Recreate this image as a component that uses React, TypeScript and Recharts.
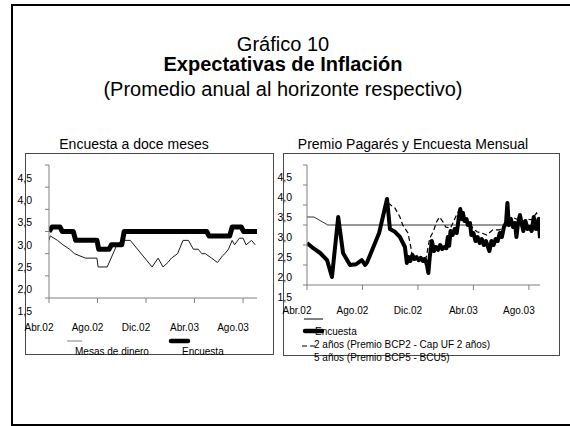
import React from 'react';
import { LineChart, Line, XAxis, YAxis } from 'recharts';

const FONT = '"Liberation Sans", Arial, Helvetica, sans-serif';

// Shared axis definitions (months since Apr 2002)
const monthTicks = [0, 4, 8, 12, 16];
const monthLabels = ['Abr.02', 'Ago.02', 'Dic.02', 'Abr.03', 'Ago.03'];
const yTicks = [1.8, 2.3, 2.8, 3.3, 3.8, 4.3, 4.8];
const yLabels = ['1,5', '2,0', '2,5', '3,0', '3,5', '4,0', '4,5'];

// Left panel: Encuesta a doce meses
const leftEncT = [0, 0.25, 0.9, 1.1, 2.0, 2.2, 3.95, 4.1, 4.95, 5.15, 6.0, 6.2, 13.0, 13.2, 14.9, 15.1, 15.85, 16.05, 17.15];
const leftEncV = [3.3, 3.4, 3.4, 3.3, 3.3, 3.1, 3.1, 2.9, 2.9, 3.0, 3.0, 3.3, 3.3, 3.2, 3.2, 3.4, 3.4, 3.3, 3.3];

const mesasT = [0, 0.1, 0.7, 1.15, 1.7, 2.1, 3.0, 3.95, 4.05, 4.8, 5.6, 6.0, 6.7, 8.5, 9.0, 9.4, 9.8, 10.1, 10.6, 11.05, 11.5, 11.9, 12.3, 12.6, 12.9, 13.4, 13.9, 14.3, 14.5, 14.8, 15.1, 15.3, 15.7, 16.0, 16.25, 16.7, 17.0];
const mesasV = [3.1, 3.2, 3.1, 3.0, 2.9, 2.8, 2.7, 2.7, 2.5, 2.5, 3.0, 3.1, 3.1, 2.5, 2.7, 2.5, 2.6, 2.7, 2.8, 3.1, 3.1, 2.9, 2.9, 2.8, 2.8, 2.7, 2.6, 2.75, 2.8, 2.9, 3.1, 3.0, 3.15, 3.15, 3.0, 3.1, 3.0];

// Right panel: Premio Pagarés y Encuesta Mensual
const encMensT = [0, 0.5, 1.5, 16.8];
const encMensV = [3.5, 3.5, 3.3, 3.3];

const cincoT = [0, 0.45, 0.95, 1.45, 1.8, 2.25, 2.6, 3.1, 3.55, 3.95, 4.2, 4.35, 5.2, 5.77, 5.98, 6.34, 6.7, 7.06, 7.2, 7.3, 7.45, 7.6, 7.75, 7.9, 8.05, 8.2, 8.35, 8.5, 8.65, 8.75, 8.85, 9.0, 9.15, 9.3, 9.45, 9.6, 9.75, 9.9, 10.05, 10.15, 10.25, 10.35, 10.5, 10.65, 10.8, 10.95, 11.05, 11.15, 11.25, 11.35, 11.5, 11.6, 11.75, 11.85, 12.0, 12.15, 12.3, 12.45, 12.6, 12.75, 12.9, 13.05, 13.15, 13.3, 13.45, 13.6, 13.75, 13.9, 14.05, 14.2, 14.35, 14.45, 14.55, 14.7, 14.85, 15.0, 15.1, 15.2, 15.35, 15.5, 15.6, 15.75, 15.9, 16.05, 16.2, 16.35, 16.5, 16.6, 16.7, 16.8];
const cincoV = [2.85, 2.72, 2.6, 2.42, 2.0, 3.5, 2.6, 2.3, 2.32, 2.42, 2.3, 2.38, 3.1, 3.95, 3.2, 3.13, 3.0, 2.75, 2.35, 2.5, 2.4, 2.55, 2.45, 2.5, 2.42, 2.48, 2.4, 2.45, 2.3, 2.1, 2.5, 2.9, 2.65, 2.75, 2.68, 2.8, 2.7, 2.75, 2.72, 3.0, 2.78, 3.15, 3.05, 3.2, 3.1, 3.5, 3.7, 3.45, 3.6, 3.4, 3.45, 3.3, 3.35, 3.05, 3.1, 2.9, 3.0, 2.85, 2.95, 2.8, 2.9, 2.75, 2.65, 2.9, 2.8, 2.95, 2.9, 3.1, 3.0, 3.25, 3.35, 3.85, 3.3, 3.45, 3.25, 3.35, 3.0, 3.3, 3.55, 3.3, 3.15, 3.4, 3.2, 3.25, 3.15, 3.5, 3.2, 3.3, 3.45, 2.97];

const dosT = [5.84, 6.35, 6.7, 6.9, 7.28, 7.5, 7.6, 8.2, 8.6, 8.85, 9.1, 9.35, 9.55, 9.8, 10.0, 10.35, 10.85, 11.05, 11.4, 11.75, 12.25, 12.6, 12.97, 13.4, 13.9, 14.4, 14.75, 15.1, 15.5, 15.85, 16.2, 16.55, 16.8];
const dosV = [3.85, 3.72, 3.5, 3.3, 3.1, 2.72, 2.5, 2.45, 2.5, 2.97, 3.13, 3.38, 3.5, 3.38, 3.25, 3.22, 3.6, 3.72, 3.48, 3.3, 3.13, 3.1, 3.05, 3.18, 3.18, 3.35, 3.5, 3.45, 3.38, 3.45, 3.43, 3.6, 3.43];

const zip = (t: number[], v: number[]) => t.map((x, i) => ({ t: x, v: v[i] }));

const makeXTick = (dy: number) => (props: any) => {
  const { x, y, payload } = props;
  const i = Math.round(payload.value / 4);
  return (
    <text x={x - 10} y={y + dy} textAnchor="middle" dominantBaseline="central" fontSize={10} fontFamily={FONT} fill="#000">
      {monthLabels[i]}
    </text>
  );
};

const makeYTick = (dx: number, dy: number) => (props: any) => {
  const { x, y, payload } = props;
  const i = Math.round((payload.value - 1.8) / 0.5);
  return (
    <text x={x + dx} y={y + dy} textAnchor="end" dominantBaseline="central" fontSize={10.5} fontFamily={FONT} fill="#000">
      {yLabels[i]}
    </text>
  );
};

const axisStroke = '#808080';

export default function App() {
  return (
    <div style={{ position: 'absolute', left: 0, top: 0, width: 570, height: 426, background: '#fff', overflow: 'hidden', fontFamily: FONT }}>
      <div style={{ position: 'absolute', left: 11, top: 4, width: 580, height: 422, border: '2px solid #000', boxSizing: 'border-box' }} />
      <div style={{ position: 'absolute', left: 25, top: 153, width: 249, height: 202, border: '1px solid #4a4a4a', boxSizing: 'border-box' }} />
      <div style={{ position: 'absolute', left: 283, top: 153, width: 277, height: 203, border: '1px solid #4a4a4a', boxSizing: 'border-box' }} />

      <div style={{ position: 'absolute', left: 10, top: 153 }}>
        <LineChart width={263} height={201} margin={{ top: 12, right: 16, bottom: 0, left: 0 }}>
          <XAxis type="number" dataKey="t" domain={[0, 17.15]} ticks={monthTicks} interval={0} height={56}
            allowDataOverflow axisLine={{ stroke: axisStroke }} tickLine={{ stroke: axisStroke }} tickSize={5}
            tick={makeXTick(22)} />
          <YAxis type="number" dataKey="v" domain={[1.8, 4.8]} ticks={yTicks} interval={0} width={39}
            allowDataOverflow axisLine={{ stroke: axisStroke }} tickLine={{ stroke: axisStroke }} tickSize={4}
            tick={makeYTick(-11, 13)} />
          <Line data={zip(mesasT, mesasV)} dataKey="v" type="linear" stroke="#1a1a1a" strokeWidth={1} dot={false} isAnimationActive={false} />
          <Line data={zip(leftEncT, leftEncV)} dataKey="v" type="linear" stroke="#000" strokeWidth={5} strokeLinejoin="round" dot={false} isAnimationActive={false} />
        </LineChart>
      </div>

      <div style={{ position: 'absolute', left: 270, top: 153 }}>
        <LineChart width={289} height={202} margin={{ top: 12, right: 19, bottom: 0, left: 0 }}>
          <XAxis type="number" dataKey="t" domain={[0, 16.8]} ticks={monthTicks} interval={0} height={70}
            allowDataOverflow axisLine={{ stroke: axisStroke }} tickLine={{ stroke: axisStroke }} tickSize={5}
            tick={makeXTick(18)} />
          <YAxis type="number" dataKey="v" domain={[1.8, 4.8]} ticks={yTicks} interval={0} width={37}
            allowDataOverflow axisLine={{ stroke: axisStroke }} tickLine={{ stroke: axisStroke }} tickSize={4}
            tick={makeYTick(-9, 12)} />
          <Line data={zip(encMensT, encMensV)} dataKey="v" type="linear" stroke="#333" strokeWidth={1} dot={false} isAnimationActive={false} />
          <Line data={zip(cincoT, cincoV)} dataKey="v" type="linear" stroke="#000" strokeWidth={4} strokeLinejoin="round" dot={false} isAnimationActive={false} />
          <Line data={zip(dosT, dosV)} dataKey="v" type="linear" stroke="#000" strokeWidth={1.2} strokeDasharray="5 3" dot={false} isAnimationActive={false} />
        </LineChart>
      </div>

      <svg width={570} height={426} style={{ position: 'absolute', left: 0, top: 0, pointerEvents: 'none' }} fontFamily={FONT}>
        <text x={283} y={51} textAnchor="middle" fontSize={20} fill="#000">Gráfico 10</text>
        <text x={283} y={71} textAnchor="middle" fontSize={20} fontWeight="bold" fill="#000">Expectativas de Inflación</text>
        <text x={283} y={96} textAnchor="middle" fontSize={20} fill="#000">(Promedio anual al horizonte respectivo)</text>

        <text x={134} y={149} textAnchor="middle" fontSize={14} fill="#000">Encuesta a doce meses</text>
        <text x={413} y={149} textAnchor="middle" fontSize={14} fill="#000">Premio Pagarés y Encuesta Mensual</text>

        <line x1={67} x2={82} y1={341} y2={341} stroke="#808080" strokeWidth={1} />
        <text x={75} y={355} fontSize={10} fill="#000">Mesas de dinero</text>
        <line x1={171} x2={188} y1={341} y2={341} stroke="#000" strokeWidth={4.5} strokeLinecap="round" />
        <text x={182} y={355} fontSize={10} fill="#000">Encuesta</text>

        <line x1={304} x2={323} y1={319} y2={319} stroke="#000" strokeWidth={1} />
        <line x1={305} x2={322} y1={331} y2={331} stroke="#000" strokeWidth={4.5} strokeLinecap="round" />
        <text x={315} y={334.5} fontSize={10} fill="#000">Encuesta</text>
        <line x1={302} x2={316} y1={346} y2={346} stroke="#000" strokeWidth={1.2} strokeDasharray="5 3" />
        <text x={314} y={348} fontSize={10} fill="#000">2 años (Premio BCP2 - Cap UF 2 años)</text>
        <text x={314} y={361} fontSize={10} fill="#000">5 años (Premio BCP5 - BCU5)</text>
      </svg>
    </div>
  );
}
